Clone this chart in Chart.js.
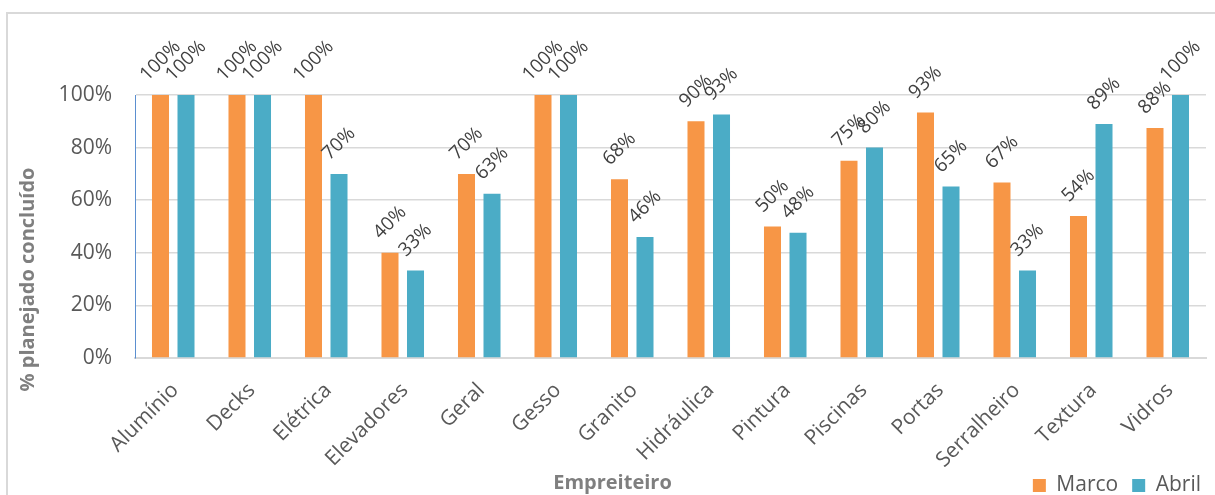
<!DOCTYPE html>
<html>
<head>
<meta charset="utf-8">
<script src="https://cdn.jsdelivr.net/npm/chart.js@4.4.1/dist/chart.umd.min.js"></script>
<style>
  html, body { margin: 0; padding: 0; background: #ffffff; overflow: hidden; }
  #frame { position: absolute; left: 6px; top: 12px; width: 1230px; height: 520px; border: 2px solid #d9d9d9; box-sizing: border-box; }
  #c { position: absolute; left: 0; top: 0; }
</style>
</head>
<body>
<div id="frame"></div>
<canvas id="c" width="1215" height="495"></canvas>
<script>
const categories = ['Alumínio', 'Decks', 'Elétrica', 'Elevadores', 'Geral', 'Gesso', 'Granito', 'Hidráulica', 'Pintura', 'Piscinas', 'Portas', 'Serralheiro', 'Textura', 'Vidros'];
const marco = [100, 100, 100, 40, 70, 100, 68, 90, 50, 75, 93.3, 66.7, 54, 87.5];
const abril = [100, 100, 70, 33.3, 62.5, 100, 46, 92.6, 47.6, 80, 65.2, 33.3, 89, 100];
const seriesNames = ['Marco', 'Abril'];
const yTicks = [0, 20, 40, 60, 80, 100];
const xTitle = 'Empreiteiro';
const yTitle = '% planejado concluído';

const FONT = "'Open Sans', 'DejaVu Sans', sans-serif";

const dataLabels = {
  id: 'dataLabels',
  afterDatasetsDraw(chart) {
    const ctx = chart.ctx;
    ctx.save();
    ctx.font = '19px ' + FONT;
    ctx.fillStyle = '#404040';
    ctx.textAlign = 'center';
    ctx.textBaseline = 'middle';
    chart.data.datasets.forEach((ds, di) => {
      const meta = chart.getDatasetMeta(di);
      meta.data.forEach((el, i) => {
        const txt = Math.round(ds.data[i]) + '%';
        const w = ctx.measureText(txt).width;
        const off = 12 + (w + 14) * 0.7071 / 2;
        ctx.save();
        ctx.translate(el.x, el.y - off);
        ctx.rotate(-Math.PI / 4);
        ctx.fillText(txt, 0, 0);
        ctx.restore();
      });
    });
    ctx.restore();
  }
};

const axisTitles = {
  id: 'axisTitles',
  afterDraw(chart) {
    const ctx = chart.ctx;
    ctx.save();
    ctx.font = 'bold 20px ' + FONT;
    ctx.fillStyle = '#7f7f7f';
    ctx.textAlign = 'center';
    ctx.textBaseline = 'middle';
    ctx.fillText(xTitle, chart.width / 2 + 5, chart.height - 12);
    ctx.translate(28, chart.height / 2 + 32);
    ctx.rotate(-Math.PI / 2);
    ctx.fillText(yTitle, 0, 0);
    ctx.restore();
  }
};

new Chart(document.getElementById('c'), {
  type: 'bar',
  data: {
    labels: categories,
    datasets: [
      { label: seriesNames[0], data: marco, backgroundColor: '#F79646', categoryPercentage: 0.667, barPercentage: 0.667 },
      { label: seriesNames[1], data: abril, backgroundColor: '#4BACC6', categoryPercentage: 0.667, barPercentage: 0.667 }
    ]
  },
  options: {
    responsive: false,
    animation: false,
    layout: { padding: { top: 95, right: 0, left: 0, bottom: -11 } },
    plugins: {
      tooltip: { enabled: false },
      legend: {
        position: 'bottom',
        align: 'end',
        labels: {
          boxWidth: 13, boxHeight: 13, padding: 14,
          color: '#595959',
          font: { family: FONT, size: 21 }
        }
      }
    },
    scales: {
      x: {
        grid: { display: false, drawTicks: false },
        border: { color: '#d9d9d9', width: 2 },
        ticks: {
          color: '#595959',
          font: { family: FONT, size: 21 },
          maxRotation: 45, minRotation: 45,
          padding: 20,
          labelOffset: 2
        },
        afterFit(s) {
          const lh = s.chart.legend ? s.chart.legend.height : 40;
          s.height = 495 + 11 - 358 - lh;
          s.paddingRight = 9;
          s._computeLabelArea = () => undefined;
        }
      },
      y: {
        min: 0, max: 100,
        afterBuildTicks(s) { s.ticks = yTicks.map(v => ({ value: v })); },
        grid: { color: '#d9d9d9', lineWidth: 1.5, drawTicks: false },
        border: { color: '#5b8fd0', width: 1 },
        ticks: {
          color: '#595959',
          font: { family: FONT, size: 21 },
          padding: 23,
          callback: v => v + '%'
        },
        afterFit(s) { s.width = 135; }
      }
    }
  },
  plugins: [dataLabels, axisTitles]
});
</script>
</body>
</html>
